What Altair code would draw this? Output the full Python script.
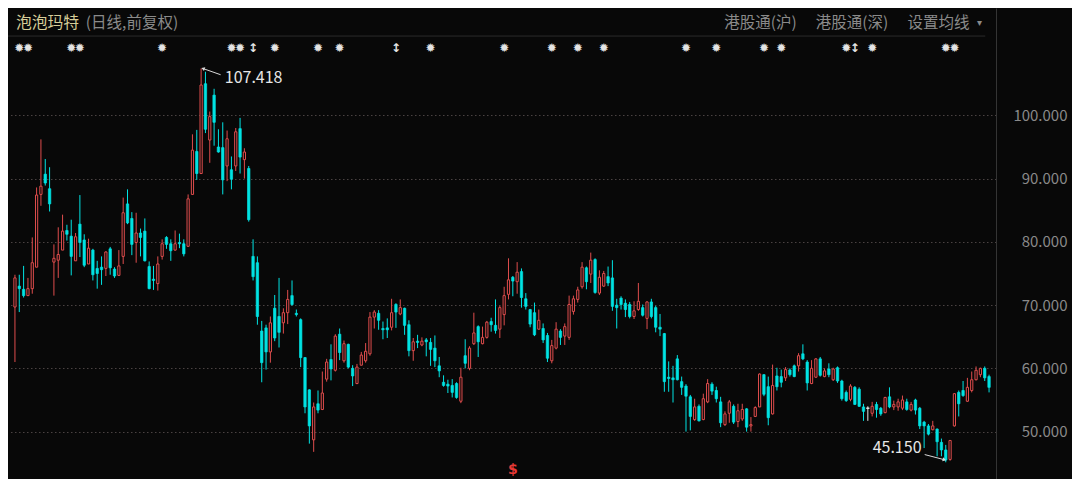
import altair as alt
import pandas as pd

# ---------------- data ----------------
opens = [69.7, 73.0, 72.5, 71.5, 72.6, 76.0, 87.5, 90.7, 88.4, 76.8,
         77.1, 78.7, 81.8, 80.9, 77.0, 82.8, 80.3, 76.5, 78.7, 75.8,
         76.0, 75.8, 78.9, 75.7, 74.7, 77.7, 86.0, 83.7, 79.9, 81.4,
         81.7, 76.1, 74.1, 73.4, 77.7, 80.7, 79.7, 78.7, 79.9, 79.7,
         79.3, 87.5, 94.3, 90.8, 105.0, 96.1, 103.2, 95.0, 94.9, 92.0,
         91.4, 92.0, 97.9, 93.0, 91.6, 77.7, 76.7, 65.9, 66.4, 62.6,
         69.5, 68.2, 67.2, 68.8, 71.5, 68.7, 67.7, 61.7, 56.6, 48.7,
         54.4, 53.5, 58.3, 61.4, 59.7, 65.4, 61.2, 63.8, 60.0, 57.6,
         60.5, 61.2, 62.3, 68.1, 68.7, 66.3, 66.4, 66.5, 70.1, 68.6,
         69.5, 66.9, 62.8, 64.3, 63.7, 64.5, 64.1, 63.2, 60.4, 57.8,
         57.5, 57.3, 57.6, 54.8, 62.0, 60.0, 63.9, 66.6, 63.9, 64.9,
         67.4, 66.8, 66.2, 68.5, 71.7, 74.4, 73.7, 75.3, 71.0, 69.3,
         68.8, 66.2, 66.3, 65.2, 61.2, 63.2, 65.9, 65.1, 64.9, 69.0,
         70.9, 72.9, 75.9, 74.9, 77.2, 71.9, 73.0, 74.5, 74.3, 70.0,
         71.1, 70.3, 70.1, 68.2, 69.3, 69.6, 67.9, 70.5, 69.6, 66.5,
         65.5, 58.6, 58.5, 61.5, 57.9, 57.2, 55.5, 51.9, 54.0, 51.9,
         54.7, 57.5, 56.5, 54.7, 51.1, 52.9, 54.0, 51.6, 52.0, 53.6,
         50.9, 52.4, 53.9, 59.0, 57.1, 52.8, 58.8, 58.7, 58.5, 59.75,
         60.4, 60.4, 62.3, 61.0, 57.6, 58.6, 61.5, 58.7, 59.9, 58.2,
         60.1, 58.0, 56.2, 55.1, 57.0, 56.7, 53.9, 53.7, 52.9, 54.3,
         53.7, 53.0, 55.5, 53.9, 53.9, 53.7, 54.7, 53.4, 55.0, 53.7,
         51.5, 50.9, 50.3, 50.4, 48.3, 47.1, 45.6, 50.9, 56.2, 56.5,
         54.8, 56.5, 58.2, 59.0, 60.0, 58.7]
highs = [74.8, 74.8, 76.2, 74.3, 80.7, 88.6, 96.2, 93.1, 91.8, 79.6,
         82.3, 84.3, 82.7, 83.5, 81.4, 87.4, 81.2, 80.5, 78.9, 77.0,
         77.7, 78.5, 79.2, 76.0, 78.7, 87.0, 88.3, 84.7, 84.6, 82.1,
         83.7, 76.9, 76.2, 77.7, 80.4, 80.9, 80.4, 81.8, 81.3, 80.4,
         87.5, 97.0, 97.7, 107.418, 106.9, 100.6, 104.2, 97.8, 98.9, 97.6,
         93.5, 98.0, 99.6, 94.8, 92.0, 80.4, 77.7, 67.5, 66.9, 68.2,
         71.6, 74.3, 69.5, 72.4, 73.9, 69.3, 67.9, 61.8, 56.7, 54.6,
         56.5, 59.5, 61.5, 63.8, 65.4, 66.3, 64.4, 63.9, 60.5, 60.7,
         62.6, 64.0, 68.9, 69.2, 69.2, 67.4, 67.9, 71.0, 70.3, 70.9,
         69.6, 67.6, 64.8, 65.3, 64.9, 64.8, 64.8, 65.2, 61.8, 58.9,
         58.2, 58.3, 57.8, 60.1, 64.6, 63.5, 68.8, 66.8, 66.6, 67.5,
         68.0, 70.9, 69.9, 72.9, 77.4, 74.6, 76.8, 75.8, 71.9, 69.4,
         70.4, 69.3, 67.1, 65.6, 64.5, 67.3, 66.2, 67.1, 71.5, 71.5,
         72.9, 76.8, 76.1, 78.3, 77.4, 75.5, 75.4, 76.1, 77.1, 71.0,
         71.4, 70.9, 70.5, 70.6, 73.5, 70.1, 70.6, 71.0, 69.9, 68.6,
         65.6, 61.1, 60.4, 62.1, 58.7, 57.5, 55.8, 55.2, 54.3, 56.0,
         58.3, 57.8, 57.1, 55.5, 53.2, 55.0, 54.3, 54.4, 54.4, 53.7,
         52.3, 54.0, 59.2, 59.1, 58.7, 60.6, 60.1, 59.8, 60.2, 60.0,
         60.6, 62.4, 63.8, 61.3, 61.3, 61.6, 61.8, 60.0, 60.8, 60.1,
         60.3, 58.2, 56.5, 57.5, 57.2, 57.0, 54.4, 54.0, 54.7, 54.7,
         53.9, 55.5, 57.0, 54.9, 55.2, 55.7, 55.2, 54.7, 55.2, 53.9,
         51.7, 51.2, 51.7, 50.5, 48.9, 47.9, 48.6, 56.1, 56.5, 58.0,
         58.5, 59.5, 60.3, 60.1, 60.3, 59.0]
lows = [61.0, 68.9, 71.2, 71.5, 71.8, 76.0, 85.7, 88.9, 84.8, 71.5,
        74.3, 78.7, 80.2, 74.7, 77.0, 77.6, 76.0, 76.5, 73.9, 72.6,
        73.2, 74.6, 74.8, 74.3, 74.6, 76.5, 82.8, 77.9, 76.7, 77.7,
        76.9, 72.5, 72.4, 72.3, 77.2, 78.9, 77.0, 78.6, 79.0, 77.7,
        79.2, 87.5, 89.8, 90.8, 97.2, 92.5, 95.2, 94.1, 87.5, 89.6,
        88.3, 91.2, 90.8, 90.0, 83.2, 73.9, 66.9, 57.8, 59.8, 60.9,
        64.3, 63.3, 65.5, 67.0, 69.9, 68.2, 60.2, 52.9, 48.1, 46.8,
        52.9, 53.4, 57.9, 58.1, 59.5, 61.3, 60.9, 60.0, 57.2, 57.5,
        60.5, 60.9, 62.0, 66.3, 66.1, 64.6, 64.8, 66.0, 66.4, 68.4,
        65.3, 61.9, 61.2, 63.2, 63.5, 61.9, 60.4, 60.2, 58.6, 57.1,
        56.1, 55.4, 55.2, 54.5, 60.0, 59.7, 63.7, 61.8, 63.8, 64.7,
        65.8, 65.5, 64.8, 66.8, 70.9, 71.4, 71.8, 69.6, 69.3, 66.5,
        65.1, 66.1, 64.0, 61.0, 60.8, 63.0, 63.7, 63.7, 64.5, 68.5,
        70.4, 72.6, 72.5, 73.5, 71.8, 71.6, 72.9, 73.0, 69.1, 66.3,
        69.3, 68.1, 67.9, 67.8, 69.1, 68.2, 66.2, 67.9, 65.7, 65.1,
        56.3, 56.3, 54.6, 58.1, 55.8, 50.0, 50.2, 51.7, 51.6, 51.8,
        54.5, 55.8, 54.6, 50.7, 50.9, 51.4, 51.2, 50.7, 51.7, 50.0,
        50.0, 52.3, 53.9, 55.6, 51.0, 52.7, 56.5, 57.0, 58.0, 58.7,
        58.6, 59.5, 61.3, 56.5, 57.5, 58.5, 58.7, 58.6, 58.6, 58.0,
        57.7, 54.9, 54.7, 54.8, 54.2, 53.9, 51.7, 51.7, 52.4, 52.2,
        52.5, 52.9, 53.7, 53.4, 53.3, 53.4, 53.3, 53.2, 52.7, 50.4,
        47.4, 49.4, 50.2, 46.1, 46.1, 45.15, 45.4, 50.8, 52.4, 55.5,
        54.7, 56.2, 58.1, 58.6, 58.0, 56.2]
closes = [74.3, 72.6, 71.5, 72.6, 76.7, 87.4, 88.8, 89.3, 86.0, 77.4,
          78.0, 81.7, 81.2, 77.7, 80.8, 79.9, 76.3, 79.0, 74.8, 75.0,
          75.6, 78.4, 75.9, 74.6, 76.2, 84.6, 83.0, 79.6, 81.4, 80.7,
          77.0, 72.6, 73.9, 76.5, 79.7, 79.6, 78.6, 79.7, 79.7, 78.1,
          86.8, 94.5, 90.8, 104.8, 97.8, 99.8, 98.9, 94.2, 89.8, 96.3,
          89.9, 97.4, 93.4, 94.2, 83.5, 74.5, 68.2, 60.9, 62.6, 67.2,
          64.8, 65.7, 68.8, 70.9, 70.1, 68.5, 61.7, 53.9, 50.9, 53.9,
          53.4, 56.1, 61.0, 59.9, 65.1, 62.5, 63.9, 60.2, 58.8, 60.2,
          62.1, 62.7, 68.1, 68.9, 67.6, 66.1, 66.1, 68.8, 68.9, 69.6,
          66.8, 62.8, 64.2, 64.1, 64.3, 64.2, 63.0, 61.2, 59.6, 57.3,
          57.2, 56.2, 55.4, 58.6, 60.8, 63.2, 65.6, 64.2, 64.9, 67.3,
          66.9, 66.0, 69.6, 71.5, 74.0, 73.8, 75.2, 71.2, 69.8, 67.0,
          65.3, 67.6, 64.5, 61.6, 63.6, 66.2, 64.9, 66.6, 70.1, 71.0,
          72.4, 76.0, 73.7, 77.1, 72.0, 74.4, 75.0, 73.5, 69.8, 69.6,
          70.1, 69.3, 68.2, 69.1, 70.6, 68.4, 70.5, 68.2, 66.5, 66.2,
          57.9, 58.4, 58.2, 58.2, 57.0, 55.6, 52.4, 53.9, 51.7, 55.2,
          57.6, 56.4, 55.2, 51.4, 52.8, 54.7, 51.5, 53.3, 53.5, 50.7,
          51.1, 53.8, 59.1, 55.9, 52.2, 57.3, 57.1, 57.8, 59.8, 59.0,
          58.7, 62.0, 61.5, 57.7, 60.0, 61.5, 58.9, 59.6, 59.0, 59.9,
          58.0, 55.2, 54.9, 57.2, 54.3, 54.0, 53.2, 53.7, 54.0, 53.5,
          52.8, 55.4, 53.9, 54.3, 54.7, 55.0, 53.5, 54.3, 53.4, 50.9,
          50.9, 49.6, 50.9, 48.4, 47.1, 45.5, 48.6, 56.0, 54.4, 55.7,
          57.0, 58.2, 59.7, 60.0, 58.5, 57.0]

star_idx = [2, 4, 14, 16, 35, 51, 53, 61, 71, 76, 97, 114, 125, 131, 137,
            156, 163, 174, 178, 193, 199, 216, 218]
updown_idx = [56, 89, 195]
dollar_idx = [116]
max_idx, max_val, max_label = 44, 107.418, "107.418"
min_idx, min_val, min_label = 216, 45.15, "45.150"
y_ticks = [50, 60, 70, 80, 90, 100]
title_main = "泡泡玛特"
title_sub = "(日线,前复权)"
menu_items = ["港股通(沪)", "港股通(深)", "设置均线"]

# ---------------- layout / style ----------------
SX = 1064 / 1080
SY = 471 / 487
PX_IDX = 4.44      # reference pixels per candle
PX_VAL = 6.54      # reference pixels per price unit
PLOT_W = round(1003 * SX)
PLOT_H = 471
xdom = [1 - 2 / PX_IDX, 1 + 1001 / PX_IDX]
ydom = [100 - 376 / PX_VAL, 100 + 111 / PX_VAL]

BG = "#080808"
RED = "#df4d4d"
CYAN = "#00e3e3"
WHITE = "#e6e6e6"
GRAY = "#8a8a8a"
FONT = "Noto Sans CJK SC"

n = len(opens)
df = pd.DataFrame({
    "i": list(range(1, n + 1)),
    "o": opens, "h": highs, "l": lows, "c": closes,
})
df["dir"] = ["up" if c > o else ("down" if c < o else "flat") for o, c in zip(opens, closes)]

xscale = alt.Scale(domain=xdom, nice=False, zero=False)
yscale = alt.Scale(domain=ydom, nice=False, zero=False)
yaxis = alt.Axis(orient="right", values=y_ticks, format=".3f", title=None,
                 ticks=False, tickSize=0, labelPadding=71, labelAlign="right",
                 labelBaseline="middle", labelColor=GRAY, labelFont=FONT,
                 labelFontSize=15, domainColor="#343434", domainWidth=1,
                 grid=True, gridColor="#4a4242", gridDash=[1.5, 2.5], gridWidth=1)


def X(field="i"):
    return alt.X(f"{field}:Q", scale=xscale, axis=None)


def Y(field):
    return alt.Y(f"{field}:Q", scale=yscale, axis=yaxis)


base = alt.Chart(df)

wicks = base.mark_rule(strokeWidth=1).encode(
    x=X(), y=Y("l"), y2="h:Q",
    color=alt.Color("dir:N", scale=alt.Scale(domain=["up", "down", "flat"],
                                             range=[RED, CYAN, WHITE]), legend=None),
)
down = base.transform_filter("datum.dir == 'down'").mark_bar(
    size=2.4, fill=CYAN, stroke=CYAN, strokeWidth=0.7
).encode(x=X(), y=Y("o"), y2="c:Q")
up = base.transform_filter("datum.dir == 'up'").mark_bar(
    size=2.2, fill=BG, stroke=RED, strokeWidth=1
).encode(x=X(), y=Y("o"), y2="c:Q")
flat = base.transform_filter("datum.dir == 'flat'").mark_bar(
    size=3, fill=WHITE, stroke=WHITE, strokeWidth=1
).encode(x=X(), y=Y("o"), y2="c:Q")

# event markers row
stars = alt.Chart(pd.DataFrame({"i": star_idx, "s": ["✹"] * len(star_idx)})).mark_text(
    font="DejaVu Sans", fontSize=12, color="#e4e4e4", baseline="middle"
).encode(x=X(), y=alt.value(41 * SY), text="s:N")
arrows_ud = alt.Chart(pd.DataFrame({"i": updown_idx, "s": ["↕"] * len(updown_idx)})).mark_text(
    font="DejaVu Sans", fontSize=12, fontWeight="bold", color="#e4e4e4", baseline="middle"
).encode(x=X(), y=alt.value(41 * SY), text="s:N")
dollar = alt.Chart(pd.DataFrame({"i": dollar_idx, "s": ["$"]})).mark_text(
    font="DejaVu Sans", fontSize=14, fontWeight="bold", color="#e83a36", baseline="middle"
).encode(x=X(), y=alt.value(478 * SY), text="s:N")

# max / min annotations
ann_max = alt.Chart(pd.DataFrame({"i": [max_idx], "v": [max_val], "t": [max_label]})).mark_text(
    align="left", baseline="middle", dx=24 * SX, dy=9.8 * SY, font=FONT, fontSize=16,
    color=WHITE
).encode(x=X(), y=Y("v"), text="t:N")
ann_min = alt.Chart(pd.DataFrame({"i": [min_idx], "v": [min_val], "t": [min_label]})).mark_text(
    align="right", baseline="middle", dx=-24.6 * SX, dy=-14.7 * SY, font=FONT, fontSize=16,
    color=WHITE
).encode(x=X(), y=Y("v"), text="t:N")

# arrow offsets in reference pixels: (tail_dx, tail_dy, tip_dx, tip_dy, head angle)
arrow_specs = [(max_idx, max_val, 20, 6.5, 2.5, 0.3, 290),
               (min_idx, min_val, -21.6, -8, -2.0, -2.8, 104)]
arr = pd.DataFrame({
    "x": [a[0] + a[2] / PX_IDX for a in arrow_specs],
    "y": [a[1] - a[3] / PX_VAL for a in arrow_specs],
    "x2": [a[0] + a[4] / PX_IDX for a in arrow_specs],
    "y2": [a[1] - a[5] / PX_VAL for a in arrow_specs],
    "a": [a[6] for a in arrow_specs],
})
arrow_lines = alt.Chart(arr).mark_rule(color="#d8d8d8", strokeWidth=1).encode(
    x=X("x"), y=Y("y"), x2="x2:Q", y2="y2:Q")
arrow_heads = alt.Chart(arr).mark_point(shape="triangle", filled=True, size=16,
                                        color="#d8d8d8", opacity=1).encode(
    x=X("x2"), y=Y("y2"), angle=alt.Angle("a:Q", scale=None))

# header
one = pd.DataFrame({"k": [0]})
sep = alt.Chart(one).mark_rule(color="#2a2a2a", strokeWidth=1).encode(
    x=alt.value(0), x2=alt.value(992 * SX), y=alt.value(29 * SY))


def header_text(txt, x_ref, color, size=15.5):
    return alt.Chart(pd.DataFrame({"t": [txt]})).mark_text(
        align="left", baseline="middle", font=FONT, fontSize=size, color=color
    ).encode(x=alt.value(x_ref * SX), y=alt.value(15 * SY), text="t:N")


hdr = [
    header_text(title_main, 8, "#d6cd98", 15.8),
    header_text(title_sub, 79, GRAY),
    header_text(menu_items[0], 727, GRAY),
    header_text(menu_items[1], 820, GRAY),
    header_text(menu_items[2], 913, GRAY),
    header_text("▾", 984, GRAY, 10),
]

chart = alt.layer(
    wicks, down, up, flat, sep, stars, arrows_ud, dollar,
    arrow_lines, arrow_heads, ann_max, ann_min, *hdr
).properties(
    width=PLOT_W, height=PLOT_H,
    autosize=alt.AutoSizeParams(type="none"),
    padding={"left": 0, "top": 0, "right": 1064 - PLOT_W, "bottom": 0},
    background=BG,
).configure_view(stroke=None)

chart.save("out.html", embed_options={"renderer": "svg", "actions": False})
